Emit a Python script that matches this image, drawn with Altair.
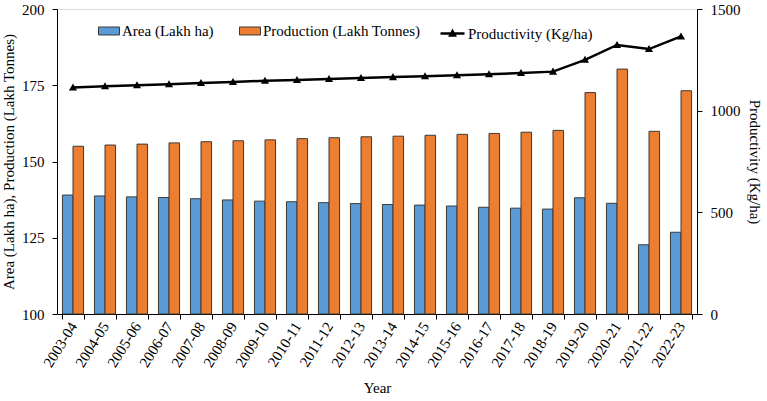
import altair as alt
import pandas as pd

years = ["2003-04", "2004-05", "2005-06", "2006-07", "2007-08", "2008-09", "2009-10",
         "2010-11", "2011-12", "2012-13", "2013-14", "2014-15", "2015-16", "2016-17",
         "2017-18", "2018-19", "2019-20", "2020-21", "2021-22", "2022-23"]
area = [139.0, 138.7, 138.4, 138.2, 137.8, 137.4, 137.0, 136.8, 136.5, 136.2,
        135.9, 135.7, 135.4, 135.0, 134.7, 134.4, 138.1, 136.3, 122.7, 126.8]
production = [155.0, 155.4, 155.7, 156.1, 156.5, 156.8, 157.1, 157.5, 157.8, 158.1,
              158.3, 158.6, 158.9, 159.2, 159.6, 160.2, 172.6, 180.3, 159.9, 173.2]
productivity = [1114, 1120, 1125, 1130, 1136, 1141, 1147, 1151, 1156, 1161,
                1165, 1169, 1174, 1179, 1185, 1192, 1250, 1323, 1303, 1365]

AREA = "Area (Lakh ha)"
PROD = "Production (Lakh Tonnes)"
PRODY = "Productivity (Kg/ha)"

bars_df = pd.DataFrame({
    "Year": years * 2,
    "Series": [AREA] * len(years) + [PROD] * len(years),
    "Value": area + production,
})
line_df = pd.DataFrame({"Year": years, "Productivity": productivity, "Series": [PRODY] * len(years)})

FONT = "Liberation Serif"
common_axis = dict(labelFont=FONT, titleFont=FONT, labelFontSize=15, titleFontSize=15,
                   titleFontWeight="normal", domainColor="black", tickColor="black",
                   labelColor="black", titleColor="black", tickSize=5, grid=False)

x_enc = alt.X("Year:N", sort=years, title="Year",
              scale=alt.Scale(paddingInner=0.34, paddingOuter=0.17),
              axis=alt.Axis(labelAngle=-58, tickBand="extent", labelPadding=4,
                            titlePadding=11, **common_axis))

bars = alt.Chart(bars_df).mark_bar(stroke="#3a3a3a", strokeWidth=1).encode(
    x=x_enc,
    xOffset=alt.XOffset("Series:N", sort=[AREA, PROD], scale=alt.Scale(paddingInner=0, paddingOuter=0)),
    y=alt.Y("Value:Q", title="Area (Lakh ha), Production (Lakh Tonnes)",
            scale=alt.Scale(domain=[100, 200], zero=False, nice=False),
            axis=alt.Axis(values=[100, 125, 150, 175, 200], labelPadding=8,
                          titlePadding=5, **common_axis)),
    y2=alt.datum(100),
    color=alt.Color("Series:N", sort=[AREA, PROD],
                    scale=alt.Scale(domain=[AREA, PROD], range=["#5B9BD5", "#ED7D31"]),
                    legend=alt.Legend(orient="none", legendX=41, legendY=11, direction="horizontal",
                                      title=None, symbolType="M-1,-0.38H1V0.38H-1Z", symbolSize=441,
                                      symbolStrokeColor="#3a3a3a", symbolStrokeWidth=1,
                                      labelFontSize=15, labelFont=FONT, labelColor="black",
                                      labelOffset=2, columnPadding=23)),
)

line = alt.Chart(line_df).mark_line(
    color="black", strokeWidth=2.5,
    point=alt.OverlayMarkDef(shape="triangle-up", size=22, filled=True, color="black"),
).encode(
    x=alt.X("Year:N", sort=years),
    y=alt.Y("Productivity:Q", title="Productivity (Kg/ha)",
            scale=alt.Scale(domain=[0, 1500], nice=False),
            axis=alt.Axis(orient="right", values=[0, 500, 1000, 1500], format="d",
                          labelPadding=8, titlePadding=6, **common_axis)),
    stroke=alt.Stroke("Series:N",
                      scale=alt.Scale(domain=[PRODY], range=["black"]),
                      legend=alt.Legend(orient="none", legendX=382, legendY=11, title=None,
                                        symbolType="M-1,0H1M-0.2,0.17L0,-0.2L0.2,0.17Z",
                                        symbolSize=576, symbolStrokeColor="black",
                                        symbolFillColor="black", symbolStrokeWidth=2.5,
                                        labelFontSize=15, labelFont=FONT, labelColor="black",
                                        labelOffset=2)),
)

chart = alt.layer(bars, line).resolve_scale(y="independent").properties(
    width=640, height=305,
    autosize=alt.AutoSizeParams(type="none"),
    padding={"left": 57, "top": 9, "right": 70, "bottom": 87},
).configure_view(stroke=None).configure(font=FONT, background="white")

chart.save("out.html", embed_options={"renderer": "svg", "actions": False})
